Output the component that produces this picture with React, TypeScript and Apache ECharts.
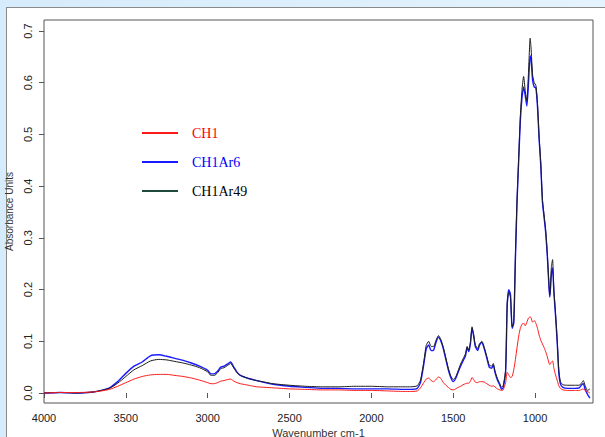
import React, { useEffect, useRef } from "react";
import * as echarts from "echarts";

const wavenumbers = [
  4000, 3900, 3800, 3700, 3650, 3600, 3550, 3500, 3450, 3400, 3350, 3300, 3250, 3200, 3150, 3100, 3050, 3000,
  2980, 2960, 2940, 2920, 2900, 2880, 2860, 2840, 2820, 2800, 2750, 2700, 2650, 2600, 2500, 2400, 2300, 2200,
  2100, 2000, 1900, 1800, 1760, 1720, 1700, 1680, 1665, 1650, 1635, 1620, 1605, 1590, 1575, 1560, 1545, 1530,
  1515, 1500, 1485, 1470, 1455, 1440, 1425, 1415, 1405, 1395, 1385, 1375, 1365, 1350, 1340, 1325, 1310, 1295,
  1280, 1265, 1255, 1245, 1230, 1215, 1205, 1195, 1180, 1170, 1160, 1150, 1140, 1130, 1120, 1110, 1100, 1090,
  1080, 1070, 1060, 1050, 1040, 1030, 1025, 1015, 1005, 995, 985, 975, 965, 955, 945, 935, 925, 915, 910, 900,
  893, 885, 875, 865, 855, 845, 830, 800, 760, 730, 715, 705, 695, 680, 665,
];

const ch1 = [
  0.0, 0.001, 0.001, 0.002, 0.004, 0.007, 0.013, 0.02, 0.027, 0.032, 0.035, 0.036, 0.036, 0.034, 0.032, 0.029, 0.025, 0.02,
  0.018, 0.018, 0.02, 0.023, 0.024, 0.026, 0.027, 0.023, 0.02, 0.018, 0.015, 0.012, 0.011, 0.01, 0.008, 0.007, 0.006, 0.006,
  0.005, 0.005, 0.004, 0.003, 0.003, 0.004, 0.01, 0.02, 0.027, 0.029, 0.024, 0.022, 0.026, 0.031, 0.028, 0.02, 0.015, 0.011,
  0.007, 0.006, 0.008, 0.011, 0.013, 0.016, 0.018, 0.019, 0.019, 0.023, 0.03, 0.026, 0.021, 0.02, 0.022, 0.022, 0.021, 0.018,
  0.015, 0.013, 0.014, 0.012, 0.008, 0.006, 0.005, 0.006, 0.02, 0.04, 0.035, 0.03, 0.032, 0.045, 0.065, 0.088, 0.11, 0.125,
  0.133, 0.135, 0.13, 0.137, 0.145, 0.147, 0.146, 0.137, 0.14, 0.135, 0.125, 0.112, 0.102, 0.095, 0.088, 0.08, 0.07, 0.058, 0.055, 0.06,
  0.062, 0.048, 0.035, 0.025, 0.014, 0.009, 0.006, 0.005, 0.005, 0.005, 0.007, 0.008, 0.005, 0.003, 0.0,
];

const ch1ar6 = [
  0.0, 0.001, 0.0, 0.002, 0.005, 0.01, 0.022, 0.038, 0.052, 0.06, 0.072, 0.074, 0.071, 0.067, 0.063, 0.058, 0.052, 0.044,
  0.037, 0.037, 0.042, 0.05, 0.052, 0.056, 0.06, 0.05, 0.04, 0.034, 0.028, 0.024, 0.02, 0.017, 0.013, 0.011, 0.009, 0.009,
  0.008, 0.008, 0.008, 0.007, 0.007, 0.009, 0.02, 0.055, 0.085, 0.093, 0.082, 0.083, 0.098, 0.108, 0.1, 0.085, 0.065, 0.045,
  0.03, 0.022, 0.028, 0.04, 0.052, 0.062, 0.072, 0.088, 0.08, 0.095, 0.125, 0.11, 0.09, 0.082, 0.092, 0.098, 0.085, 0.068,
  0.05, 0.048, 0.054, 0.04, 0.025, 0.015, 0.007, 0.01, 0.04, 0.17, 0.2, 0.19, 0.125, 0.135, 0.26, 0.37, 0.45, 0.525,
  0.57, 0.592, 0.575, 0.555, 0.6, 0.652, 0.648, 0.605, 0.592, 0.59, 0.553, 0.49, 0.44, 0.37, 0.34, 0.31, 0.265, 0.205, 0.185, 0.23,
  0.242, 0.195, 0.15, 0.1, 0.04, 0.018, 0.011, 0.009, 0.009, 0.01, 0.016, 0.018, 0.008, -0.002, -0.01,
];

const ch1ar49 = [
  0.0, 0.001, 0.0, 0.002, 0.005, 0.009, 0.019, 0.032, 0.045, 0.053, 0.062, 0.065, 0.064, 0.061, 0.058, 0.054, 0.049, 0.041,
  0.034, 0.034, 0.039, 0.047, 0.049, 0.053, 0.057, 0.048, 0.039, 0.034, 0.028, 0.024, 0.021, 0.018, 0.015, 0.013, 0.012, 0.012,
  0.013, 0.013, 0.012, 0.012, 0.012, 0.014, 0.025, 0.06, 0.092, 0.1, 0.09, 0.09, 0.102, 0.111, 0.103, 0.088, 0.068, 0.048,
  0.033, 0.026, 0.031, 0.043, 0.056, 0.066, 0.076, 0.09, 0.083, 0.098, 0.128, 0.113, 0.093, 0.086, 0.095, 0.1, 0.088, 0.071,
  0.054, 0.052, 0.057, 0.043, 0.028, 0.018, 0.011, 0.014, 0.045, 0.175, 0.195, 0.185, 0.128, 0.14, 0.265, 0.375, 0.455, 0.535,
  0.585, 0.612, 0.585, 0.565, 0.62, 0.686, 0.67, 0.615, 0.6, 0.595, 0.56, 0.495, 0.445, 0.375, 0.345, 0.315, 0.27, 0.21, 0.19, 0.245,
  0.258, 0.2, 0.155, 0.105, 0.045, 0.022, 0.016, 0.015, 0.015, 0.015, 0.02, 0.024, 0.015, 0.005, 0.008,
];

const xTicks = [1000, 1500, 2000, 2500, 3000, 3500, 4000];
const yTicks = [0, 0.1, 0.2, 0.3, 0.4, 0.5, 0.6, 0.7];
const seriesNames = ["CH1", "CH1Ar6", "CH1Ar49"];
const lineColors = ["#ff1a1a", "#1a1aff", "#1c1c1c"];
const legendLineColors = ["#ff1a1a", "#1a1aff", "#1f4a3e"];
const legendTextColors = ["#ff0000", "#0000ff", "#000000"];

const pair = (ys: number[]) => wavenumbers.map((w, i) => [w, ys[i]]);

export default function App() {
  const ref = useRef<HTMLDivElement>(null);
  useEffect(() => {
    if (!ref.current) return;
    const chart = echarts.init(ref.current, undefined, { renderer: "svg" });
    const values = [ch1, ch1ar6, ch1ar49];
    const order = [1, 2, 0];
    chart.setOption({
      animation: false,
      backgroundColor: "transparent",
      textStyle: { fontFamily: "Liberation Sans" },
      grid: {
        left: 44,
        right: 12,
        top: 20,
        bottom: 34,
        outerBoundsMode: "none",
        containLabel: false,
        show: true,
        borderColor: "#555",
        borderWidth: 1,
        backgroundColor: "transparent",
      },
      legend: {
        orient: "vertical",
        left: 142,
        top: 126,
        padding: 0,
        itemGap: 15,
        itemWidth: 36,
        itemHeight: 2,
        icon: "rect",
        selectedMode: false,
        textStyle: { fontFamily: "Liberation Serif", fontSize: 14, padding: [0, 0, 0, 9] },
        data: seriesNames.map((n, i) => ({
          name: n,
          itemStyle: { color: legendLineColors[i] },
          textStyle: { color: legendTextColors[i] },
        })),
      },
      xAxis: {
        type: "value",
        inverse: true,
        min: 646,
        max: 4000,
        name: "Wavenumber cm-1",
        nameLocation: "middle",
        nameGap: 24,
        nameMoveOverlap: false,
        nameTextStyle: { fontSize: 11, color: "#333" },
        splitLine: { show: false },
        axisLine: { show: false },
        axisTick: { show: true, length: 5, lineStyle: { color: "#555" }, customValues: xTicks },
        axisLabel: { color: "#222", fontSize: 11, margin: 9, customValues: xTicks, formatter: (v: number) => String(v) },
      },
      yAxis: {
        type: "value",
        min: -0.0193,
        max: 0.7213,
        name: "Absorbance Units",
        nameLocation: "middle",
        nameRotate: 90,
        nameGap: 30,
        nameMoveOverlap: false,
        nameTextStyle: { fontSize: 10, color: "#333" },
        splitLine: { show: false },
        axisLine: { show: false },
        axisTick: { show: true, length: 5, lineStyle: { color: "#555" }, customValues: yTicks },
        axisLabel: {
          color: "#222",
          fontSize: 11,
          rotate: 90,
          margin: 11,
          customValues: yTicks,
          formatter: (v: number) => v.toFixed(1),
        },
      },
      series: order.map((i) => ({
        name: seriesNames[i],
        type: "line",
        data: pair(values[i]),
        showSymbol: false,
        symbol: "none",
        smooth: 0.2,
        lineStyle: { color: lineColors[i], width: i === 1 ? 1.4 : 1 },
        itemStyle: { color: lineColors[i] },
      })),
    });
    return () => chart.dispose();
  }, []);
  return (
    <div style={{ position: "fixed", left: 0, top: 0, width: 605, height: 437, background: "linear-gradient(90deg, #d6ebfb, #e4f3fd)", overflow: "hidden" }}>
      <div style={{ position: "absolute", left: 6, top: 7, width: 605, height: 437, background: "#fff", borderLeft: "1px solid #8a8a8a", borderTop: "1px solid #8a8a8a" }} />
      <div ref={ref} style={{ position: "absolute", left: 0, top: 0, width: 605, height: 437 }} />
    </div>
  );
}
